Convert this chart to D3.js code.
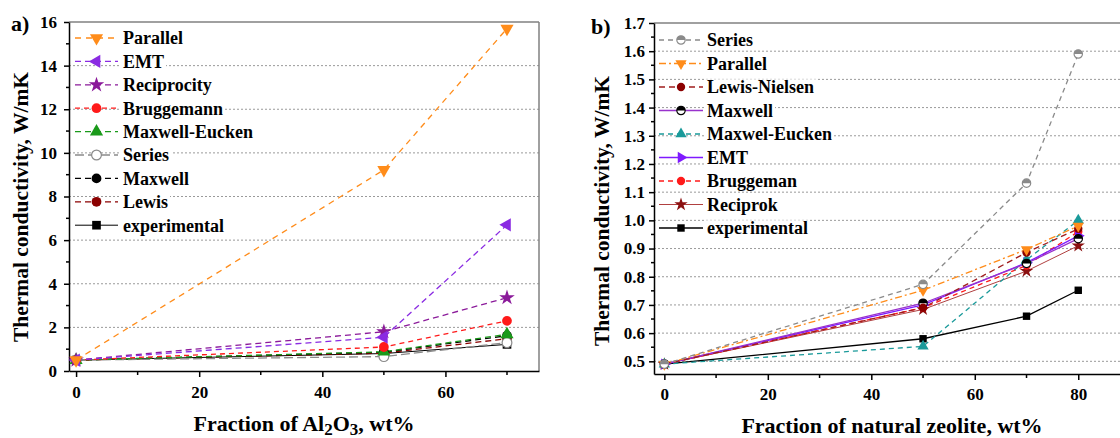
<!DOCTYPE html>
<html>
<head>
<meta charset="utf-8">
<script src="https://cdn.jsdelivr.net/npm/d3@7"></script>
<style>
  body { margin: 0; background: #fff; }
  text { font-family: "Liberation Serif", "Times New Roman", serif; font-weight: bold; }
</style>
</head>
<body>
<div id="chart"></div>
<script>
// Panel a data (Al2O3)
const xA = [0, 50, 70];
const parallelA = [0.5, 9.22, 15.7];
const emtA = [0.5, 1.55, 6.7];
const reciprocityA = [0.5, 1.8, 3.36];
const bruggemannA = [0.5, 1.1, 2.3];
const maxwellEuckenA = [0.5, 0.88, 1.68];
const seriesA = [0.5, 0.66, 1.3];
const maxwellA = [0.5, 0.86, 1.62];
const lewisA = [0.5, 0.82, 1.48];
const experimentalA = [0.5, 0.8, 1.22];
const yTicksA = [0, 2, 4, 6, 8, 10, 12, 14, 16];
const xTicksA = [0, 20, 40, 60];

// Panel b data (natural zeolite)
const xB = [0, 50, 70, 80];
const seriesB = [0.49, 0.773, 1.132, 1.59];
const parallelB = [0.49, 0.752, 0.897, 0.98];
const lewisNielsenB = [0.49, 0.69, 0.886, 0.97];
const maxwellB = [0.49, 0.706, 0.847, 0.935];
const maxwelEuckenB = [0.49, 0.553, 0.86, 1.0];
const emtB = [0.49, 0.70, 0.85, 0.945];
const bruggemanB = [0.49, 0.69, 0.84, 0.96];
const reciprokB = [0.49, 0.684, 0.82, 0.91];
const experimentalB = [0.49, 0.58, 0.66, 0.752];
const yTicksB = [0.5, 0.6, 0.7, 0.8, 0.9, 1.0, 1.1, 1.2, 1.3, 1.4, 1.5, 1.6, 1.7];
const xTicksB = [0, 20, 40, 60, 80];

const svg = d3.select("#chart")
    .append("svg")
    .attr("width", 1120)
    .attr("height", 438);

// marker drawing
function drawMarker(g, shape, color, size) {
    const r = Math.sqrt(size / Math.PI);
    if (shape === "open") {
        g.append("circle").attr("r", r).attr("fill", "#fff").attr("stroke", color).attr("stroke-width", 1.2);
    } else if (shape === "half") {
        g.append("circle").attr("r", r).attr("fill", "#fff").attr("stroke", color).attr("stroke-width", 1.2);
        g.append("path")
            .attr("d", `M${-r},0 A${r},${r} 0 0 1 ${r},0 Z`)
            .attr("fill", color);
    } else {
        const types = {
            circle: [d3.symbolCircle, 0],
            square: [d3.symbolSquare, 0],
            up: [d3.symbolTriangle, 0],
            down: [d3.symbolTriangle, 180],
            left: [d3.symbolTriangle, -90],
            right: [d3.symbolTriangle, 90],
            star: [d3.symbolStar, 0]
        };
        const t = types[shape];
        g.append("path")
            .attr("d", d3.symbol().type(t[0]).size(size)())
            .attr("transform", `rotate(${t[1]})`)
            .attr("fill", color);
    }
}

function drawPanel(p) {
    const x = d3.scaleLinear().domain(p.xDomain).range(p.xRange);
    const y = d3.scaleLinear().domain(p.yDomain).range(p.yRange);
    const g = svg.append("g");
    const [x0, x1] = p.xRange;
    const [yb, yt] = p.yRange;

    // grid
    g.selectAll(".grid")
        .data(p.yTicks.filter(d => y(d) > yt + 1 && y(d) < yb - 1))
        .join("line")
        .attr("x1", x0).attr("x2", x1)
        .attr("y1", d => y(d)).attr("y2", d => y(d))
        .attr("stroke", "#9a9a9a")
        .attr("stroke-width", 1)
        .attr("stroke-dasharray", "2,2");

    // frame top and right
    g.append("line").attr("x1", x0).attr("x2", x1).attr("y1", yt).attr("y2", yt)
        .attr("stroke", "#808080").attr("stroke-width", 1.5);
    g.append("line").attr("x1", x1).attr("x2", x1).attr("y1", yt).attr("y2", yb)
        .attr("stroke", "#808080").attr("stroke-width", 1.5);

    // axes
    const yAxis = g.append("g")
        .attr("transform", `translate(${x0},0)`)
        .call(d3.axisLeft(y).tickValues(p.yTicks).tickFormat(p.yFormat)
            .tickSize(5).tickSizeOuter(0).tickPadding(p.yPad));
    yAxis.append("g").selectAll("line")
        .data(p.yMinor)
        .join("line")
        .attr("x1", 0).attr("x2", -3)
        .attr("y1", d => y(d)).attr("y2", d => y(d))
        .attr("stroke", "#000").attr("stroke-width", 1.5);

    const xAxis = g.append("g")
        .attr("transform", `translate(0,${yb})`)
        .call(d3.axisBottom(x).tickValues(p.xTicks).tickFormat(d3.format("d"))
            .tickSize(6).tickSizeOuter(0).tickPadding(p.xPad));
    xAxis.append("g").selectAll("line")
        .data(p.xMinor)
        .join("line")
        .attr("x1", d => x(d)).attr("x2", d => x(d))
        .attr("y1", 0).attr("y2", 4)
        .attr("stroke", "#000").attr("stroke-width", 1.5);

    [yAxis, xAxis].forEach(a => {
        a.selectAll("path, line").attr("stroke", "#000").attr("stroke-width", 1.5);
        a.selectAll("text").attr("font-size", 17).attr("fill", "#000")
            .style("font-family", "Liberation Serif").style("font-weight", "bold");
    });

    // series lines and markers (draw in reverse so first legend entry sits on top)
    const line = d3.line().x((d, i) => x(p.xs[i])).y(d => y(d));
    p.series.slice().reverse().forEach(s => {
        g.append("path")
            .datum(s.values)
            .attr("d", line)
            .attr("fill", "none")
            .attr("stroke", s.color)
            .attr("stroke-width", s.width || 1.3)
            .attr("stroke-dasharray", s.dash || null);
    });
    p.series.slice().reverse().forEach(s => {
        s.values.forEach((v, i) => {
            const m = g.append("g").attr("transform", `translate(${x(p.xs[i])},${y(v)})`);
            drawMarker(m, s.shape, s.markerColor || s.color, p.markerSize);
        });
    });

    // legend
    const lg = g.append("g");
    p.series.forEach((s, i) => {
        const ly = p.legend.y + i * p.legend.step;
        const row = lg.append("g");
        const txt = row.append("text")
            .attr("x", p.legend.tx)
            .attr("y", ly)
            .attr("dy", "0.35em")
            .attr("font-size", 18)
            .attr("fill", "#000")
            .text(s.name);
        const bb = txt.node().getBBox();
        row.insert("rect", "text")
            .attr("x", bb.x - 2).attr("y", bb.y + 2)
            .attr("width", bb.width + 4).attr("height", bb.height - 4)
            .attr("fill", "#fff");
        row.append("line")
            .attr("x1", p.legend.lx1).attr("x2", p.legend.lx2)
            .attr("y1", ly).attr("y2", ly)
            .attr("stroke", s.color)
            .attr("stroke-width", s.width || 1.3)
            .attr("stroke-dasharray", s.dash || null);
        const m = row.append("g").attr("transform", `translate(${(p.legend.lx1 + p.legend.lx2) / 2},${ly})`);
        drawMarker(m, s.shape, s.markerColor || s.color, p.markerSize);
    });

    // axis titles
    svg.append("text")
        .attr("transform", `translate(${p.yLabel.x},${p.yLabel.y}) rotate(-90)`)
        .attr("text-anchor", "middle")
        .attr("dy", "0.35em")
        .attr("font-size", 21.5)
        .text("Thermal conductivity, W/mK");

    const xl = svg.append("text")
        .attr("x", (x0 + x1) / 2)
        .attr("y", p.xLabelY)
        .attr("text-anchor", "middle")
        .attr("font-size", 22);
    p.xLabel.forEach(part => {
        const t = xl.append("tspan").text(part.t);
        if (part.sub) t.attr("font-size", 17).attr("baseline-shift", "-22%");
    });

    svg.append("text")
        .attr("x", p.tag.x).attr("y", p.tag.y)
        .attr("font-size", 22)
        .text(p.tag.t);
}

drawPanel({
    xs: xA,
    xDomain: [-1.15, 75.2], xRange: [69, 539],
    yDomain: [0, 16], yRange: [371, 22],
    yTicks: yTicksA, yMinor: d3.range(1, 16, 2), yFormat: d3.format("d"), yPad: 7,
    xTicks: xTicksA, xMinor: [10, 30, 50, 70], xPad: 9,
    markerSize: 75,
    series: [
        { name: "Parallel", values: parallelA, color: "#ff8c1a", dash: "6,5", shape: "down" },
        { name: "EMT", values: emtA, color: "#8a2be2", dash: "6,4", shape: "left" },
        { name: "Reciprocity", values: reciprocityA, color: "#8b1a9a", dash: "6,4", shape: "star" },
        { name: "Bruggemann", values: bruggemannA, color: "#ff1a1a", dash: "5,4", shape: "circle" },
        { name: "Maxwell-Eucken", values: maxwellEuckenA, color: "#1a9a1a", dash: "6,4", shape: "up" },
        { name: "Series", values: seriesA, color: "#8a8a8a", dash: "9,4", shape: "open" },
        { name: "Maxwell", values: maxwellA, color: "#000000", dash: "6,4", shape: "circle" },
        { name: "Lewis", values: lewisA, color: "#8b0000", dash: "6,4", shape: "circle" },
        { name: "experimental", values: experimentalA, color: "#000000", width: 1, shape: "square" }
    ],
    legend: { y: 38, step: 23.4, lx1: 75, lx2: 118, tx: 123 },
    yLabel: { x: 20, y: 207 },
    xLabelY: 431,
    xLabel: [{ t: "Fraction of Al" }, { t: "2", sub: true }, { t: "O" }, { t: "3", sub: true }, { t: ", wt%" }],
    tag: { t: "a)", x: 11, y: 31 }
});

drawPanel({
    xs: xB,
    xDomain: [-2, 90], xRange: [654, 1130],
    yDomain: [0.455, 1.7], yRange: [374, 23],
    yTicks: yTicksB, yMinor: d3.range(0.55, 1.7, 0.1), yFormat: d3.format(".1f"), yPad: 4,
    xTicks: xTicksB, xMinor: [10, 30, 50, 70], xPad: 8,
    markerSize: 55,
    series: [
        { name: "Series", values: seriesB, color: "#8a8a8a", dash: "5,4", shape: "half" },
        { name: "Parallel", values: parallelB, color: "#ff8c1a", dash: "7,3,2,3", shape: "down" },
        { name: "Lewis-Nielsen", values: lewisNielsenB, color: "#a01c1c", dash: "6,4", shape: "circle", markerColor: "#8b0000" },
        { name: "Maxwell", values: maxwellB, color: "#9932cc", shape: "half", markerColor: "#000000" },
        { name: "Maxwel-Eucken", values: maxwelEuckenB, color: "#1a9a9a", dash: "5,4", shape: "up" },
        { name: "EMT", values: emtB, color: "#7f1aff", shape: "right" },
        { name: "Bruggeman", values: bruggemanB, color: "#ff1a1a", dash: "5,4", shape: "circle" },
        { name: "Reciprok", values: reciprokB, color: "#b04040", width: 1, shape: "star", markerColor: "#8b1010" },
        { name: "experimental", values: experimentalB, color: "#000000", width: 1.3, shape: "square" }
    ],
    legend: { y: 40, step: 23.5, lx1: 659, lx2: 703, tx: 707 },
    yLabel: { x: 601, y: 211 },
    xLabelY: 433,
    xLabel: [{ t: "Fraction of natural zeolite, wt%" }],
    tag: { t: "b)", x: 591, y: 34 }
});
</script>
</body>
</html>
